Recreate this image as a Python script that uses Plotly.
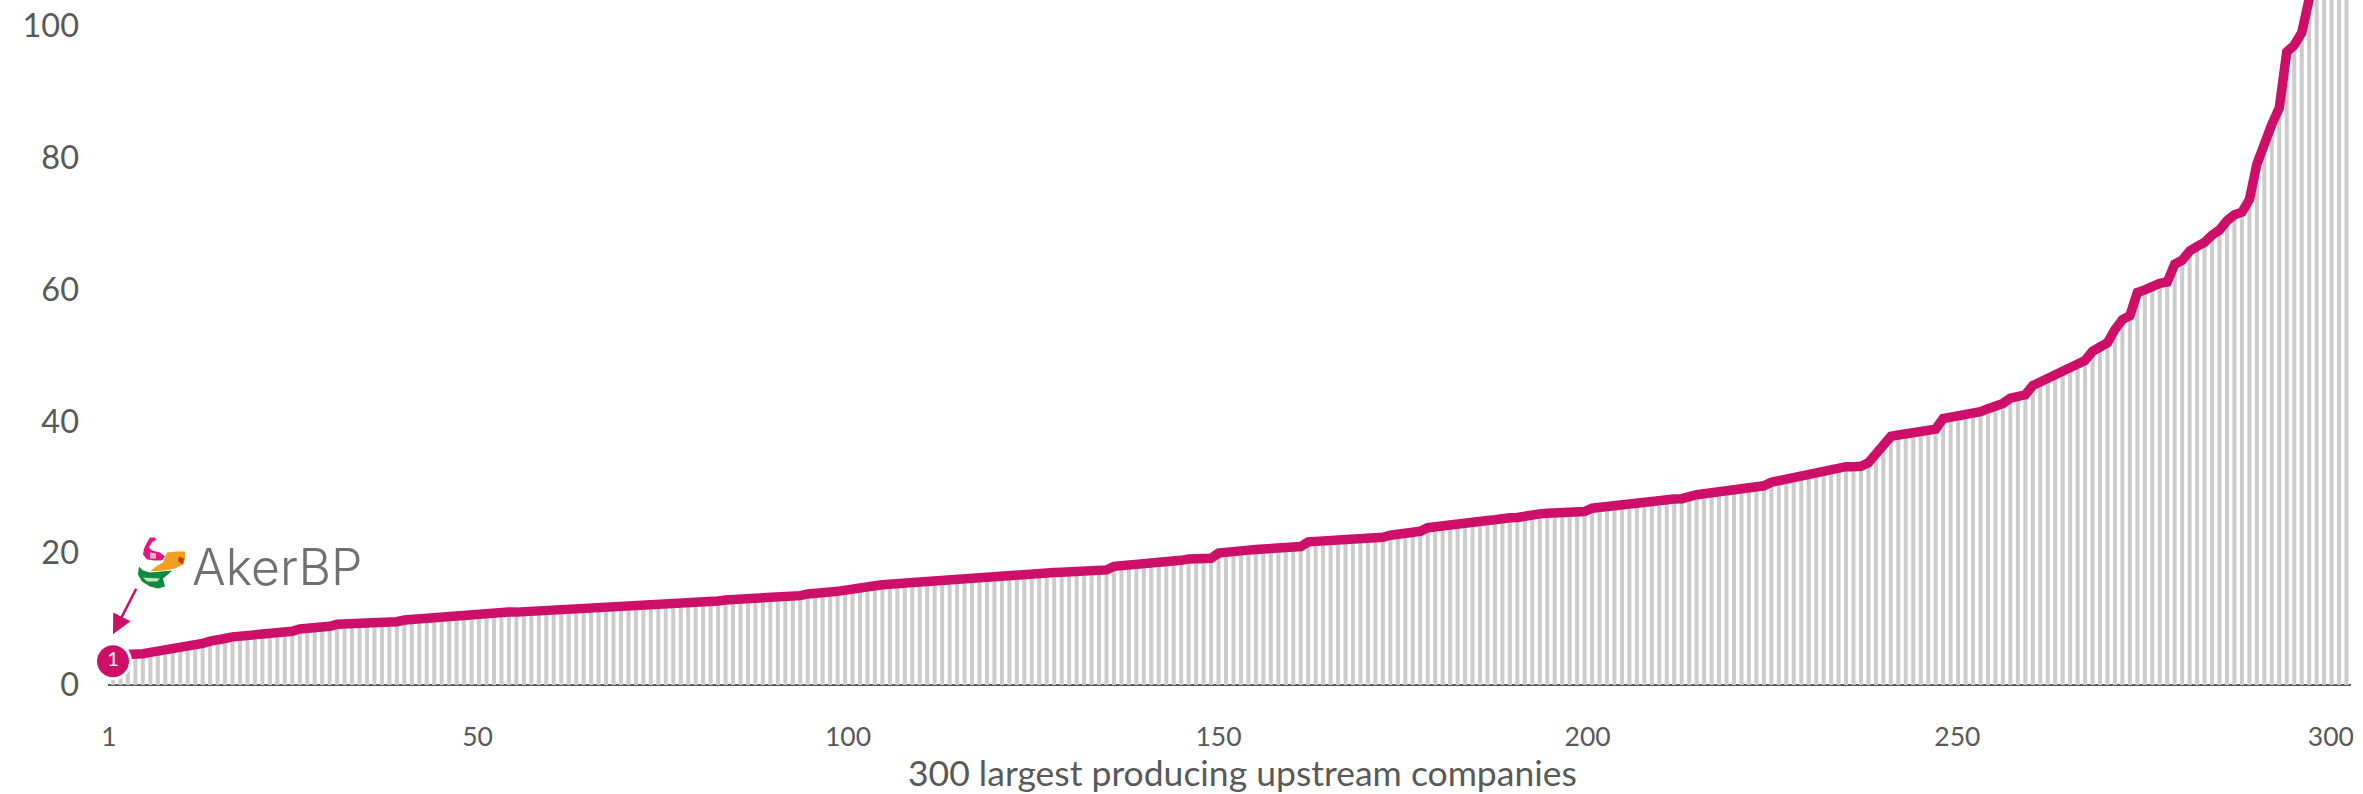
import plotly.graph_objects as go

ranks = list(range(1, 301))
costs = [
4.5,4.5,4.6,4.65,4.75,4.95,5.1,5.3,5.45,5.6,5.75,5.95,6.3,6.65,7.0,7.05,7.3,7.4,7.45,7.5,7.75,7.85,7.95,8.05,8.15,8.5,8.55,8.65,8.75,8.9,9.2,9.25,9.25,9.25,9.25,9.3,9.3,9.35,9.6,9.85,9.95,10.1,10.25,10.35,10.4,10.45,10.5,10.55,10.75,10.9,
10.9,10.9,11.0,11.05,11.05,11.1,11.15,11.2,11.25,11.35,11.55,11.6,11.65,11.7,11.75,11.8,12.0,12.0,12.05,12.1,12.15,12.2,12.25,12.3,12.3,12.4,12.45,12.5,12.6,12.65,12.7,12.75,12.9,12.95,12.95,13.0,13.0,13.1,13.2,13.3,13.4,13.5,13.55,13.8,14.0,14.05,14.1,14.2,14.4,14.7,
15.0,15.0,15.05,15.2,15.35,15.4,15.45,15.5,15.6,15.7,15.8,15.9,16.0,16.1,16.15,16.2,16.2,16.25,16.3,16.4,16.5,16.6,16.7,16.8,16.9,17.0,17.05,17.1,17.15,17.15,17.2,17.25,17.3,17.45,18.0,18.1,18.15,18.25,18.3,18.35,18.4,18.45,18.5,18.9,19.1,19.15,19.2,19.2,20.0,20.2,
20.2,20.3,20.45,20.55,20.65,20.7,20.75,20.8,20.85,21.0,21.7,21.75,21.8,21.8,21.85,21.95,22.1,22.2,22.3,22.35,22.4,22.7,22.9,22.9,23.05,23.3,23.85,24.0,24.1,24.55,24.65,24.75,24.8,24.9,24.95,25.05,25.3,25.35,25.4,25.7,25.85,25.95,26.05,26.15,26.2,26.25,26.3,26.3,26.8,26.95,
27.0,27.1,27.25,27.35,27.65,27.95,28.05,28.1,28.15,28.2,28.25,28.7,28.85,29.0,29.15,29.35,29.45,29.6,29.65,29.8,29.85,30.2,30.75,31.0,31.05,31.35,31.6,32.0,32.35,32.5,32.55,32.95,33.1,33.1,33.15,33.7,34.9,36.6,37.7,37.9,38.1,38.4,38.55,38.75,38.8,40.4,40.55,40.65,41.0,41.3,
41.45,41.9,42.2,42.7,43.5,43.8,44.0,45.4,46.0,46.5,47.0,47.6,48.3,48.6,49.2,50.6,51.4,51.9,53.9,55.4,56.0,59.5,59.9,60.6,60.9,61.1,63.8,64.4,65.8,66.5,67.1,68.2,69.0,70.4,71.3,71.7,73.6,79.0,82.5,85.0,87.5,96.0,97.0,98.9,104.0,112.0,118.0,126.0,140.0,170.0,
]
# labels sit a little off their bars in the reference, so their positions are listed apart
x_tick_labels = ["1", "50", "100", "150", "200", "250", "300"]
x_tick_positions = [0.46, 49.8, 99.4, 149.0, 198.4, 247.9, 297.9]
y_tick_values = [0, 20, 40, 60, 80, 100]
x_title = "300 largest producing upstream companies"
highlight_rank = [1]
highlight_value = [3.6]
highlight_label = ["1"]
logo_text = "AkerBP"

W, H = 2363, 794
L, R, T, B = 108, 12, 0, 108.5
PINK = "#CE0F69"
GREY = "#595959"


def px(x):
    return (x - L) / (W - L - R)


def py(y):
    return 1 - (y - T) / (H - T - B)


def logo_path(points):
    segs = []
    for i, (x, y) in enumerate(points):
        segs.append(("M" if i == 0 else "L") + f" {px(x):.5f},{py(y):.5f}")
    return " ".join(segs) + " Z"


fig = go.Figure()
fig.add_trace(go.Bar(x=ranks, y=costs, marker=dict(color="#CCCCCC", line=dict(width=0)),
                     width=0.54, showlegend=False, hoverinfo="skip"))
fig.add_trace(go.Scatter(x=ranks, y=costs, mode="lines", showlegend=False,
                         line=dict(color=PINK, width=9.5, shape="linear"), hoverinfo="skip"))
fig.add_trace(go.Scatter(x=highlight_rank, y=highlight_value, mode="markers+text", cliponaxis=False,
                         text=highlight_label, textposition="middle center",
                         textfont=dict(family="Lato", size=20, color="white"),
                         marker=dict(size=35, color=PINK, line=dict(color="white", width=3)),
                         showlegend=False, hoverinfo="skip"))

logo_shapes = [
    ("#E0177F", [(150, 538), (155, 538), (156, 540), (152, 543), (149, 548), (152, 551), (160, 553),
                 (165, 557), (162, 561), (155, 561), (147, 560), (143, 555), (144, 549), (147, 543)]),
    ("#F4A6CF", [(150, 553), (156, 554), (156, 559), (150, 559)]),
    ("#F0A020", [(167, 553), (176, 552), (185, 552), (185, 560), (183, 565), (175, 569), (165, 571),
                 (150, 572), (156, 567), (163, 563)]),
    ("#B5481A", [(179, 557), (184, 559), (183, 565), (178, 562)]),
    ("#0E8A3E", [(139, 567), (143, 571), (150, 573), (172, 571), (168, 575), (163, 579), (165, 587),
                 (158, 589), (150, 587), (142, 582), (138, 575)]),
    ("#BFE3C8", [(143, 578), (160, 579), (157, 582), (147, 582)]),
]
shapes = [dict(type="path", xref="paper", yref="paper", path=logo_path(p), fillcolor=c,
               line=dict(width=0), layer="above") for c, p in logo_shapes]

fig.update_layout(
    width=W, height=H, autosize=False,
    margin=dict(l=L, r=R, t=T, b=B, pad=0),
    paper_bgcolor="white", plot_bgcolor="white",
    font=dict(family="Lato", color=GREY),
    bargap=0.46, shapes=shapes,
    annotations=[
        dict(x=1, y=7.7, xref="x", yref="y", ax=24, ay=-47, axref="pixel", ayref="pixel",
             text="", showarrow=True, arrowhead=2, arrowsize=1.5, arrowwidth=2.6, arrowcolor=PINK),
        dict(x=px(190), y=py(567), xref="paper", yref="paper", xanchor="left", yanchor="middle",
             text=logo_text, showarrow=False,
             font=dict(family="Inter", size=50, color="#707070", weight=300)),
        dict(x=px(1242), y=py(773), xref="paper", yref="paper", xanchor="center", yanchor="middle",
             text=x_title, showarrow=False, font=dict(family="Lato", size=35.5, color=GREY)),
    ],
    xaxis=dict(range=[0.33, 300.6], tickmode="array", tickvals=x_tick_positions, ticktext=x_tick_labels,
               showgrid=False, zeroline=False, showline=False, ticks="", ticklabeloverflow="allow",
               tickfont=dict(family="Lato", size=26.5, color=GREY), ticklabelstandoff=33,
               automargin=False),
    yaxis=dict(range=[0, 103.86], tickmode="array", tickvals=y_tick_values,
               showgrid=False, zeroline=True, zerolinecolor=GREY, zerolinewidth=2, showline=False,
               ticks="", tickfont=dict(family="Lato", size=32.5, color=GREY), ticklabelstandoff=28,
               automargin=False),
)

fig.write_html("out.html", config={"displayModeBar": False},
               post_script="document.body.style.margin='0';document.body.style.overflow='hidden';")
